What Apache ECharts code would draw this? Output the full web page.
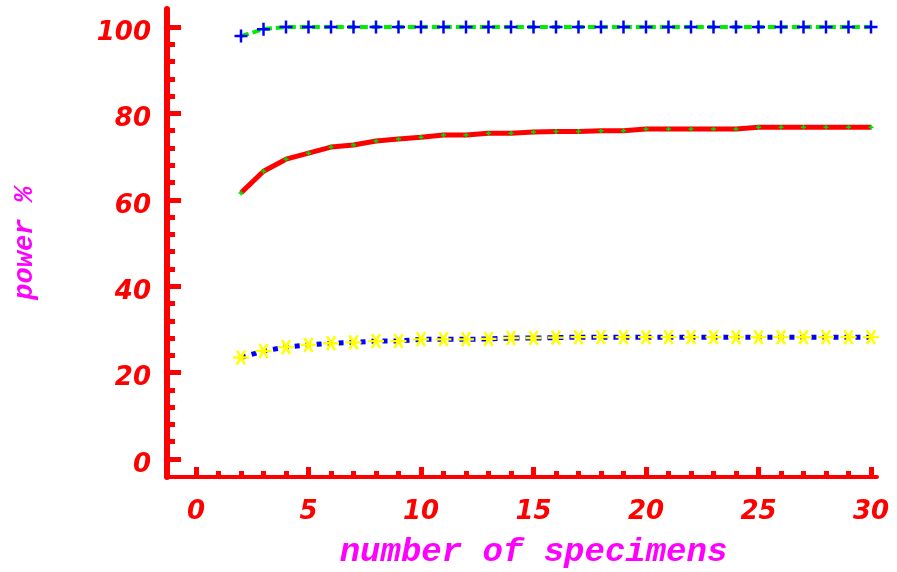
<!DOCTYPE html>
<html>
<head>
<meta charset="utf-8">
<script src="https://cdn.jsdelivr.net/npm/echarts@6/dist/echarts.min.js"></script>
<style>
  html, body { margin: 0; padding: 0; background: #fff; }
  #main { width: 897px; height: 572px; }
</style>
</head>
<body>
<div id="main"></div>
<script>
/**
 *   power % vs number of specimens
 */

var specimens = [2, 3, 4, 5, 6, 7, 8, 9, 10, 11, 12, 13, 14, 15, 16, 17, 18, 19, 20, 21, 22, 23, 24, 25, 26, 27, 28, 29, 30];

// top curve (green dashed line + blue crosses)
var powerTop = [97.9, 99.5, 100, 100, 100, 100, 100, 100, 100, 100, 100, 100, 100, 100, 100, 100, 100, 100, 100, 100, 100, 100, 100, 100, 100, 100, 100, 100, 100];
// middle curve (red line)
var powerMid = [61.6, 66.6, 69.4, 70.8, 72.2, 72.7, 73.6, 74.1, 74.5, 75.0, 75.0, 75.4, 75.4, 75.7, 75.8, 75.8, 76.0, 76.0, 76.4, 76.4, 76.4, 76.4, 76.4, 76.8, 76.8, 76.8, 76.8, 76.8, 76.8];
// bottom curve (blue dotted line + yellow stars)
var powerLow = [23.5, 25.0, 25.9, 26.4, 26.8, 27.0, 27.3, 27.3, 27.7, 27.7, 27.7, 27.8, 28.0, 28.0, 28.1, 28.2, 28.2, 28.2, 28.2, 28.2, 28.2, 28.2, 28.2, 28.2, 28.2, 28.2, 28.2, 28.2, 28.2];

var xTicks = { min: 0, max: 30, interval: 5 };
var yTicks = { min: 0, max: 100, interval: 20 };

function pairs(ys) {
    return specimens.map(function (x, i) { return [x, ys[i]]; });
}

var plusSymbol = 'path://M0,6L12,6M6,0L6,12';
var starSymbol = 'path://M0,7L16,7M4,0.07L12,13.93M12,0.07L4,13.93';

var labelFont = {
    color: '#ff0000',
    fontFamily: 'DejaVu Sans',
    fontWeight: 'bold',
    fontStyle: 'italic',
    fontSize: 26
};
var nameFont = {
    color: '#ff00ff',
    fontFamily: 'Liberation Mono',
    fontWeight: 'bold',
    fontStyle: 'italic'
};

function hidden(gridIndex, range) {
    return { gridIndex: gridIndex, type: 'value', show: false, min: range.min, max: range.max };
}

var chart = echarts.init(document.getElementById('main'));

option = {
    backgroundColor: '#ffffff',
    animation: false,
    grid: [
        // 0: data area
        { left: 196, right: 26, top: 27, bottom: 113, outerBoundsMode: 'none' },
        // 1: frame for the long axis lines
        { left: 167, right: 20, top: 9, bottom: 95, outerBoundsMode: 'none' },
        // 2: x ticks sit on the lower frame line
        { left: 196, right: 26, top: 27, bottom: 95, outerBoundsMode: 'none' },
        // 3: y ticks sit on the left frame line
        { left: 167, right: 26, top: 27, bottom: 113, outerBoundsMode: 'none' },
        // 4: y labels, drawn a little below their ticks
        { left: 167, right: 26, top: 33, bottom: 107, outerBoundsMode: 'none' }
    ],
    xAxis: [
        hidden(0, xTicks),
        {
            gridIndex: 1, type: 'value', min: 0, max: 1,
            axisLine: { show: true, lineStyle: { color: '#ff0000', width: 4 } },
            axisTick: { show: false }, axisLabel: { show: false }, splitLine: { show: false }
        },
        {
            gridIndex: 2,
            type: 'value',
            min: xTicks.min,
            max: xTicks.max,
            interval: xTicks.interval,
            axisLine: { show: false },
            axisTick: { show: true, inside: true, length: 10, lineStyle: { color: '#ff0000', width: 5 } },
            minorTick: { show: true, splitNumber: 5, length: 6, lineStyle: { color: '#ff0000', width: 5 } },
            splitLine: { show: false },
            axisLabel: Object.assign({ margin: 22 }, labelFont),
            name: 'number of specimens',
            nameLocation: 'middle',
            nameGap: 58,
            nameTextStyle: Object.assign({ fontSize: 34 }, nameFont)
        },
        hidden(3, { min: 0, max: 1 }),
        hidden(4, { min: 0, max: 1 })
    ],
    yAxis: [
        hidden(0, yTicks),
        {
            gridIndex: 1, type: 'value', min: 0, max: 1,
            axisLine: { show: true, lineStyle: { color: '#ff0000', width: 6 } },
            axisTick: { show: false }, axisLabel: { show: false }, splitLine: { show: false }
        },
        hidden(2, { min: 0, max: 1 }),
        {
            gridIndex: 3,
            type: 'value',
            min: yTicks.min,
            max: yTicks.max,
            interval: yTicks.interval,
            axisLine: { show: false },
            axisTick: { show: true, inside: true, length: 14, lineStyle: { color: '#ff0000', width: 5 } },
            minorTick: { show: true, splitNumber: 5, length: 8, lineStyle: { color: '#ff0000', width: 5 } },
            splitLine: { show: false },
            axisLabel: { show: false },
            name: 'power %',
            nameLocation: 'middle',
            nameRotate: 90,
            nameGap: 128,
            nameTextStyle: Object.assign({ fontSize: 27 }, nameFont)
        },
        {
            gridIndex: 4,
            type: 'value',
            min: yTicks.min,
            max: yTicks.max,
            interval: yTicks.interval,
            axisLine: { show: false },
            axisTick: { show: false },
            splitLine: { show: false },
            axisLabel: Object.assign({ margin: 16 }, labelFont)
        }
    ],
    series: [
        {
            name: 'top line',
            type: 'line',
            data: pairs(powerTop),
            showSymbol: false,
            lineStyle: { color: '#00ee00', width: 4, type: [8, 4] },
            z: 2
        },
        {
            name: 'top marks',
            type: 'line',
            data: pairs(powerTop),
            symbol: plusSymbol,
            symbolSize: 13,
            itemStyle: { color: 'rgba(0,0,0,0)', borderColor: '#0000ff', borderWidth: 2.5 },
            lineStyle: { width: 0 },
            z: 3
        },
        {
            name: 'middle',
            type: 'line',
            data: pairs(powerMid),
            symbol: plusSymbol,
            symbolSize: 5,
            itemStyle: { color: 'rgba(0,0,0,0)', borderColor: '#00dd00', borderWidth: 1.5 },
            lineStyle: { color: '#ff0000', width: 5 },
            z: 3
        },
        {
            name: 'bottom line',
            type: 'line',
            data: pairs(powerLow),
            showSymbol: false,
            lineStyle: { color: '#0000ff', width: 5, type: [5, 6] },
            z: 2
        },
        {
            name: 'bottom marks',
            type: 'line',
            data: pairs(powerLow),
            symbol: starSymbol,
            symbolSize: [16, 14],
            itemStyle: { color: 'rgba(0,0,0,0)', borderColor: '#ffff00', borderWidth: 2.5 },
            lineStyle: { width: 0 },
            z: 3
        }
    ]
};

chart.setOption(option);
</script>
</body>
</html>
